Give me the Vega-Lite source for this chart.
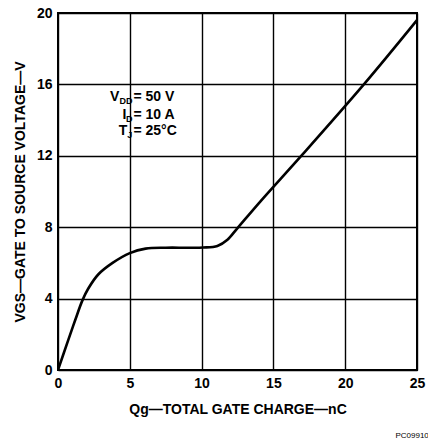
{
  "$schema": "https://vega.github.io/schema/vega-lite/v6.json",
  "autosize": "none",
  "width": 359,
  "height": 357,
  "padding": {"left": 58, "top": 13, "right": 11, "bottom": 71},
  "background": "white",
  "config": {
    "font": "Liberation Sans",
    "view": {"stroke": "black", "strokeWidth": 2},
    "axis": {
      "domain": false,
      "ticks": false,
      "grid": true,
      "gridColor": "black",
      "gridOpacity": 1,
      "gridWidth": 1.4,
      "labelFont": "Liberation Sans",
      "labelFontWeight": "bold",
      "labelFontSize": 14,
      "labelColor": "black",
      "labelFlush": false,
      "labelOverlap": false,
      "titleFont": "Liberation Sans",
      "titleFontWeight": "bold",
      "titleFontSize": 14,
      "titleColor": "black"
    }
  },
  "title": {
    "text": "PC09910",
    "orient": "bottom",
    "anchor": "end",
    "fontSize": 8,
    "fontWeight": "normal",
    "font": "Liberation Sans",
    "color": "black",
    "offset": 16,
    "dx": 4
  },
  "datasets": {
    "curve": [
      {"q": 0, "v": 0},
      {"q": 0.7, "v": 1.65},
      {"q": 1.2, "v": 2.8},
      {"q": 1.7, "v": 3.9},
      {"q": 2.1, "v": 4.55},
      {"q": 2.8, "v": 5.35},
      {"q": 3.8, "v": 6.0},
      {"q": 5.0, "v": 6.55},
      {"q": 6.1, "v": 6.8},
      {"q": 7.5, "v": 6.85},
      {"q": 9.0, "v": 6.85},
      {"q": 10.1, "v": 6.86},
      {"q": 11.1, "v": 6.95},
      {"q": 11.8, "v": 7.3},
      {"q": 12.5, "v": 7.95},
      {"q": 14.1, "v": 9.45},
      {"q": 17.0, "v": 12.05},
      {"q": 21.3, "v": 16.0},
      {"q": 25, "v": 19.6}
    ],
    "notes": [
      {"line": 1, "q": 5.25, "v": 15.3, "main": "V", "sub": "DD", "rest": "= 50 V"},
      {"line": 2, "q": 5.25, "v": 14.3, "main": "I", "sub": "D", "rest": "= 10 A"},
      {"line": 3, "q": 5.25, "v": 13.4, "main": "T", "sub": "J", "rest": "= 25°C"}
    ]
  },
  "layer": [
    {
      "data": {"name": "curve"},
      "mark": {"type": "line", "color": "black", "strokeWidth": 2.6, "interpolate": "catmull-rom", "clip": true},
      "encoding": {
        "x": {
          "field": "q", "type": "quantitative",
          "scale": {"domain": [0, 25], "nice": false},
          "axis": {"values": [0, 5, 10, 15, 20, 25], "title": "Qg—TOTAL GATE CHARGE—nC", "labelPadding": 6, "titlePadding": 12}
        },
        "y": {
          "field": "v", "type": "quantitative",
          "scale": {"domain": [0, 20], "nice": false},
          "axis": {"values": [0, 4, 8, 12, 16, 20], "title": "VGS—GATE TO SOURCE VOLTAGE—V", "labelPadding": 6, "titlePadding": 9}
        }
      }
    },
    {
      "data": {"name": "notes"},
      "mark": {"type": "text", "align": "left", "baseline": "middle", "fontSize": 14, "fontWeight": "bold", "font": "Liberation Sans", "color": "black"},
      "encoding": {
        "x": {"field": "q", "type": "quantitative"},
        "y": {"field": "v", "type": "quantitative"},
        "text": {"field": "rest"}
      }
    },
    {
      "data": {"name": "notes"},
      "mark": {"type": "text", "align": "right", "baseline": "middle", "fontSize": 9, "fontWeight": "bold", "font": "Liberation Sans", "color": "black", "dx": -1, "dy": 4},
      "encoding": {
        "x": {"field": "q", "type": "quantitative"},
        "y": {"field": "v", "type": "quantitative"},
        "text": {"field": "sub"}
      }
    },
    {
      "data": {"name": "notes"},
      "transform": [{"filter": "datum.line == 1"}],
      "mark": {"type": "text", "align": "right", "baseline": "middle", "fontSize": 14, "fontWeight": "bold", "font": "Liberation Sans", "color": "black", "dx": -14},
      "encoding": {
        "x": {"field": "q", "type": "quantitative"},
        "y": {"field": "v", "type": "quantitative"},
        "text": {"field": "main"}
      }
    },
    {
      "data": {"name": "notes"},
      "transform": [{"filter": "datum.line == 2"}],
      "mark": {"type": "text", "align": "right", "baseline": "middle", "fontSize": 14, "fontWeight": "bold", "font": "Liberation Sans", "color": "black", "dx": -7},
      "encoding": {
        "x": {"field": "q", "type": "quantitative"},
        "y": {"field": "v", "type": "quantitative"},
        "text": {"field": "main"}
      }
    },
    {
      "data": {"name": "notes"},
      "transform": [{"filter": "datum.line == 3"}],
      "mark": {"type": "text", "align": "right", "baseline": "middle", "fontSize": 14, "fontWeight": "bold", "font": "Liberation Sans", "color": "black", "dx": -6},
      "encoding": {
        "x": {"field": "q", "type": "quantitative"},
        "y": {"field": "v", "type": "quantitative"},
        "text": {"field": "main"}
      }
    }
  ]
}
